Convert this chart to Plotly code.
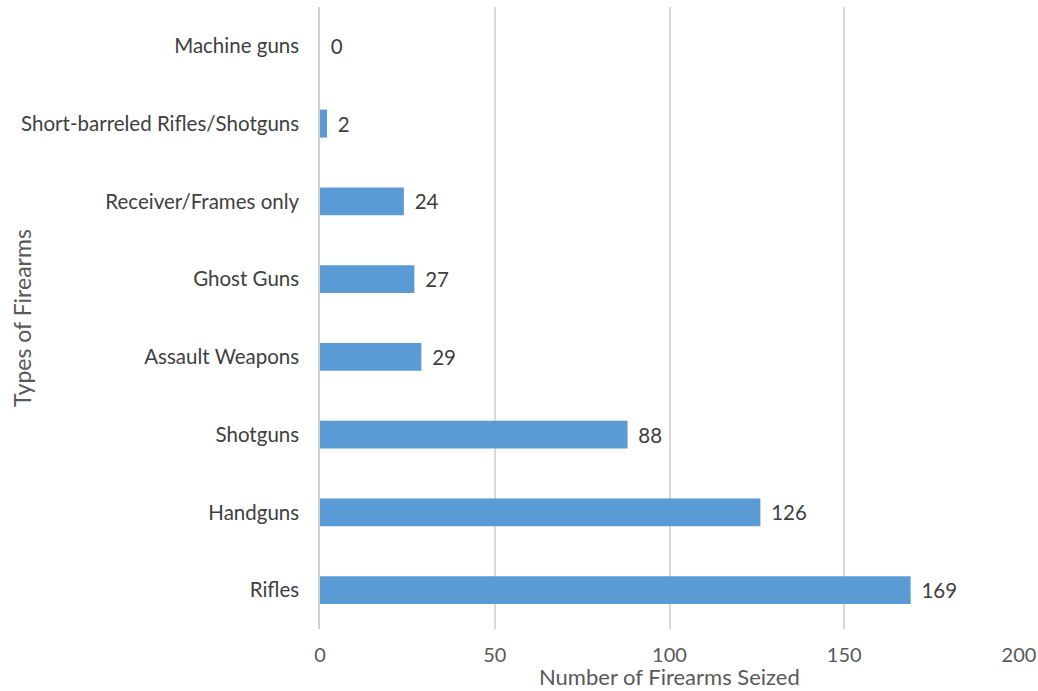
import plotly.graph_objects as go

categories = ["Rifles", "Handguns", "Shotguns", "Assault Weapons", "Ghost Guns",
              "Receiver/Frames only", "Short-barreled Rifles/Shotguns", "Machine guns"]
values = [169, 126, 88, 29, 27, 24, 2, 0]
x_ticks = [0, 50, 100, 150, 200]

FONT = "Lato"
TXT = "#404040"
SIZE = 20.5
TSIZE = 22

W, H = 1038, 691
L, R, T, B = 320, W - 1019, 7, H - 629
PW, PH = W - L - R, H - T - B

fig = go.Figure(go.Bar(
    x=values, y=categories, orientation="h",
    marker=dict(color="#5b9bd5", line=dict(width=0)),
    width=0.36,
    text=values, texttemplate="\u00a0\u2009%{x}", textposition="outside",
    textfont=dict(family=FONT, size=SIZE, color=TXT),
    cliponaxis=False,
))

fig.update_layout(
    width=W, height=H,
    margin=dict(l=L, r=R, t=T, b=B),
    paper_bgcolor="white", plot_bgcolor="white",
    showlegend=False,
    font=dict(family=FONT, size=SIZE, color="#595959"),
    xaxis=dict(
        range=[0, 200], tickvals=x_ticks, showgrid=True, gridcolor="#d9d9d9", gridwidth=1.5,
        zeroline=False, showline=False, ticks="outside", ticklen=8, tickcolor="rgba(0,0,0,0)",
        tickfont=dict(family=FONT, size=20, color="#595959"), automargin=False,
    ),
    yaxis=dict(
        categoryorder="array", categoryarray=categories, range=[-0.5, 7.5],
        showgrid=False, zeroline=False, showline=True, linecolor="#d0d0d0", linewidth=1.5,
        ticks="outside", ticklen=15, tickcolor="rgba(0,0,0,0)",
        tickfont=dict(family=FONT, size=SIZE, color=TXT), automargin=False,
    ),
    annotations=[
        dict(
            text="Types of Firearms", xref="paper", yref="paper",
            x=(22 - L) / PW, y=0.5, xanchor="center", yanchor="middle",
            textangle=-90, showarrow=False,
            font=dict(family=FONT, size=23, color="#595959"),
        ),
        dict(
            text="Number of Firearms Seized", xref="paper", yref="paper",
            x=(669 - L) / PW, y=(629 - 691) / PH, xanchor="center", yanchor="bottom",
            showarrow=False, borderpad=0,
            font=dict(family=FONT, size=TSIZE, color="#595959"),
        ),
    ],
)

fig.write_html(
    "out.html",
    config={"displayModeBar": False},
    post_script="document.body.style.margin='0';document.body.style.overflow='hidden';",
)
